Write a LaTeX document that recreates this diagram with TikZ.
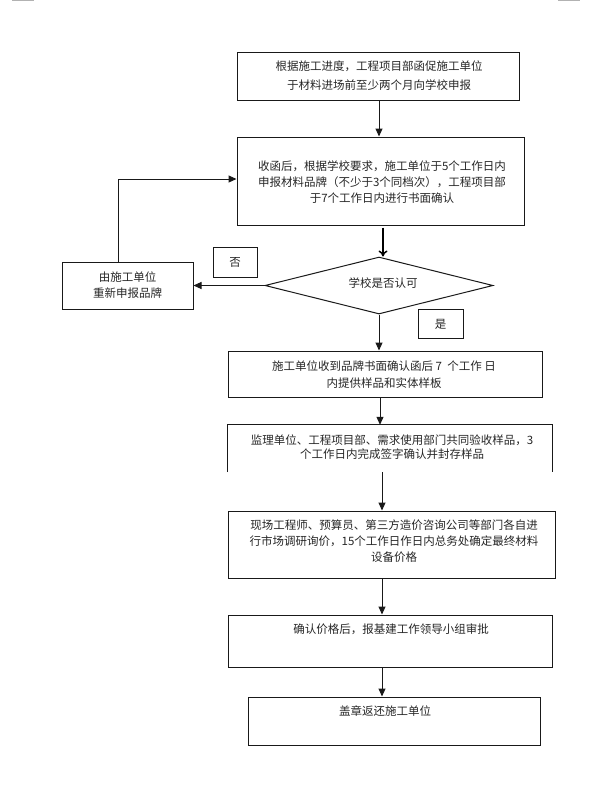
\documentclass[tikz,border=0pt]{standalone}
\usepackage{fontspec}
\newfontfamily\cjk{Noto Sans CJK SC}
\usetikzlibrary{arrows.meta,shapes.geometric}
\begin{document}
\begin{tikzpicture}[x=1pt,y=-1pt,
  box/.style={draw=black!90,line width=1pt,inner sep=0pt},
  txt/.style={font=\cjk\fontsize{11.5}{#1}\selectfont,align=center,text=black!85,inner sep=0pt},
  txt/.default=16,
  arr/.style={draw=black!90,line width=1pt,-{Triangle[length=8pt,width=7pt]}},
  thickarr/.style={draw=black,line width=2pt,-{To[length=6pt,width=9pt,line width=1.5pt]}},
  flow/.style={draw=black!90,line width=1pt}]
\useasboundingbox (0,0) rectangle (601,793);
\draw[gray!60,line width=0.8pt] (12,0.4) -- (34,0.4) (558,0.4) -- (580,0.4);
% boxes
\node[box,minimum width=282,minimum height=48] (b1) at (378,76) {};
\node[box,minimum width=287,minimum height=88] (b2) at (380.5,181) {};
\node[box,diamond,minimum width=228,minimum height=57] (d) at (379,285.5) {};
\node[box,minimum width=131,minimum height=47] (lb) at (127.5,285.5) {};
\node[box,minimum width=44,minimum height=30] (no) at (235,262) {};
\node[box,minimum width=45,minimum height=29] (yes) at (440.5,324) {};
\node[box,minimum width=314,minimum height=46] (b3) at (385,374) {};
\node[minimum width=324,minimum height=47,inner sep=0pt] (b4) at (390,448.5) {};
\draw[box] (b4.south west) -- (b4.north west) -- (b4.north east) -- (b4.south east);
\node[box,minimum width=327,minimum height=67] (b5) at (391.5,544.5) {};
\node[box,minimum width=324,minimum height=52] (b6) at (390,641) {};
\node[box,minimum width=292,minimum height=48] (b7) at (394,721) {};
% texts
\node[txt=19] (t1) at (379,75.5) {根据施工进度，工程项目部函促施工单位\\于材料进场前至少两个月向学校申报};
\node[txt=16] (t2) at (382,182) {收函后，根据学校要求，施工单位于5个工作日内\\申报材料品牌（不少于3个同档次），工程项目部\\于7个工作日内进行书面确认};
\node[txt] (td) at (383,283) {学校是否认可};
\node[txt=16] (tl) at (127.5,285.5) {由施工单位\\重新申报品牌};
\node[txt] (tno) at (235,262) {否};
\node[txt] (tyes) at (440.5,324) {是};
\node[txt=17] (t3) at (384,374.5) {施工单位收到品牌书面确认函后 7 \ 个工作 日\\内提供样品和实体样板};
\node[txt=14] (t4) at (392,447) {监理单位、工程项目部、需求使用部门共同验收样品，3\\个工作日内完成签字确认并封存样品};
\node[txt=16] (t5) at (394,541) {现场工程师、预算员、第三方造价咨询公司等部门各自进\\行市场调研询价，15个工作日作日内总务处确定最终材料\\设备价格};
\node[txt] (t6) at (391,629) {确认价格后，报基建工作领导小组审批};
\node[txt] (t7) at (385,711) {盖章返还施工单位};
% connectors
\draw[arr] (b1.south -| 379,0) -- (b2.north -| 379,0);
\draw[thickarr] (b2.south -| 383,0) ++(0,2) -- (d.north -| 383,0);
\draw[arr] (d.west) -- (lb.east);
\draw[arr] (lb.north -| 118,0) -- (118,179) -- (b2.west |- 0,179);
\draw[arr] (d.south) -- (b3.north -| d.south);
\draw[arr] (b3.south -| 380,0) -- (b4.north -| 380,0);
\draw[arr] (b4.south -| 382,0) -- (b5.north -| 382,0);
\draw[arr] (b5.south -| 382,0) -- (b6.north -| 382,0);
\draw[arr] (b6.south -| 382,0) -- (b7.north -| 382,0);
\end{tikzpicture}
\end{document}
